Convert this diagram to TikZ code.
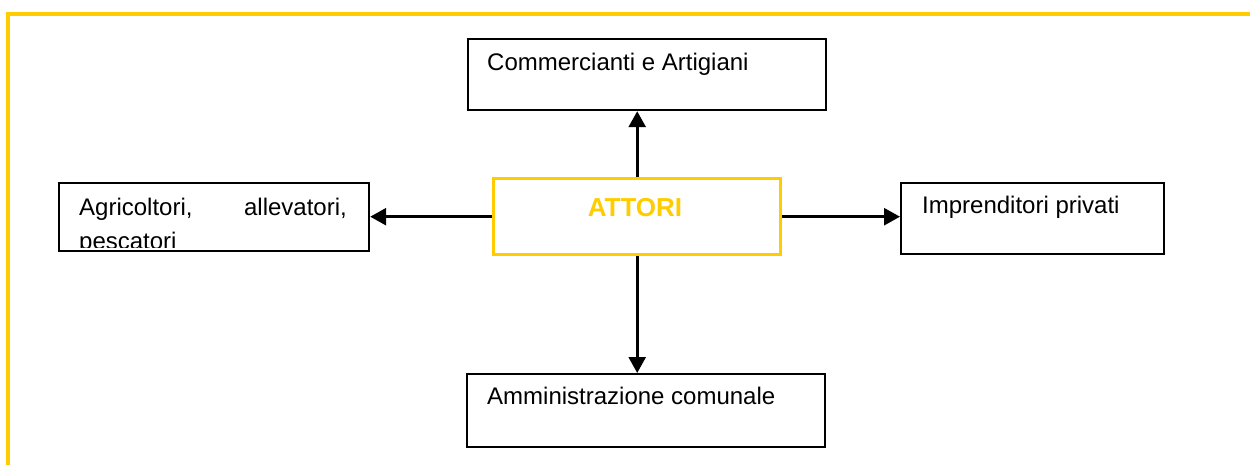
\documentclass[tikz,border=0pt]{standalone}
\usepackage{fontspec}
\setmainfont{Liberation Sans}
\usetikzlibrary{arrows.meta}
\definecolor{attyellow}{HTML}{FFCC00}
\begin{document}
\begin{tikzpicture}[x=1pt,y=-1pt,
  box/.style={draw=black, line width=2.2pt, inner sep=0pt, rectangle, anchor=north west},
  attbox/.style={draw=attyellow, line width=3.4pt, inner sep=0pt, rectangle, anchor=north west},
  lbl/.style={font=\fontsize{24}{28}\selectfont, inner sep=0pt},
  attlbl/.style={font=\fontsize{26}{30}\selectfont\bfseries, text=attyellow, inner sep=0pt},
  arr/.style={-{Triangle[length=16pt,width=17pt]}, line width=2.6pt, draw=black},
  frame/.style={draw=attyellow, line width=4pt}
]
\clip (0,0) rectangle (1250,464);
% frame
\draw[frame] (8,480) -- (8,14) -- (1270,14);
% boxes
\node[box, minimum width=358pt, minimum height=71pt] (top) at (467,38) {};
\node[attbox, minimum width=287pt, minimum height=76pt] (att) at (492,177) {};
\node[box, minimum width=310pt, minimum height=68pt] (lft) at (58,182) {};
\node[box, minimum width=263pt, minimum height=71pt] (rgt) at (900,182) {};
\node[box, minimum width=358pt, minimum height=73pt] (bot) at (466,373) {};
% labels
\node[lbl, anchor=base west] (ttop) at (487,70) {Commercianti e Artigiani};
\node[lbl, anchor=base west] (trgt) at (922,213) {Imprenditori privati};
\node[lbl, anchor=base west] (tbot) at (487,404) {Amministrazione comunale};
\node[attlbl, anchor=base] (tatt) at (635,216) {ATTORI};
\begin{scope}
\clip (59,183) rectangle (367,247);
\node[lbl, anchor=base west] (tl1) at (79,215) {Agricoltori,};
\node[lbl, anchor=base east] (tl2) at (347,215) {allevatori,};
\node[lbl, anchor=base west] (tl3) at (79,249) {pescatori};
\end{scope}
% connectors
\draw[arr] (att.north) -- (att.north |- top.south);
\draw[arr] (att.south) -- (att.south |- bot.north);
\draw[arr] (att.west) -- (att.west -| lft.east);
\draw[arr] (att.east) -- (att.east -| rgt.west);
\end{tikzpicture}
\end{document}
